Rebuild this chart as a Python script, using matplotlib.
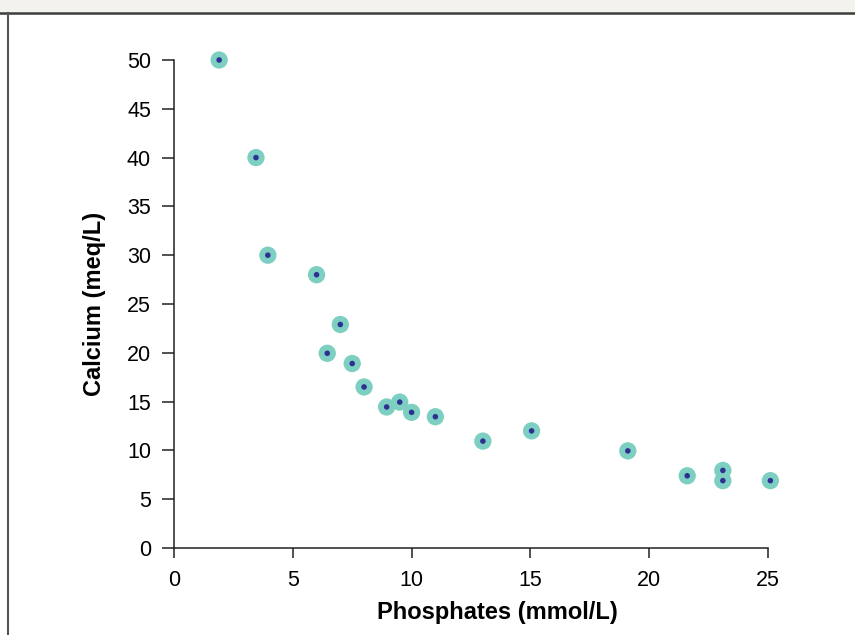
import matplotlib
matplotlib.use('Agg')
import matplotlib.pyplot as plt
from matplotlib.patches import Rectangle
from matplotlib.lines import Line2D

plt.rcParams['font.family'] = ['Liberation Sans', 'DejaVu Sans']

# values
phosphates = [1.9, 3.45, 3.95, 6.0, 7.0, 6.45, 7.5, 8.0, 8.95, 9.5,
              10.0, 11.0, 13.0, 15.05, 19.1, 21.6, 23.1, 23.1, 25.1]
calcium = [50, 40, 30, 28, 22.9, 19.95, 18.9, 16.5, 14.45, 14.95,
           13.9, 13.45, 10.95, 12.0, 9.95, 7.4, 7.95, 6.9, 6.9]
x_ticks = [0, 5, 10, 15, 20, 25]
y_ticks = [0, 5, 10, 15, 20, 25, 30, 35, 40, 45, 50]

W, H = 855, 635
fig = plt.figure(figsize=(W / 100, H / 100), dpi=100)

# frame: beige band on top, dark rule under it, grey line on the left
fig.patches.append(Rectangle((0, 1 - 12 / H), 1, 12 / H, transform=fig.transFigure,
                             facecolor='#f3f2ec', edgecolor='none', zorder=0))
fig.lines.append(Line2D([0, 1], [1 - 12.8 / H, 1 - 12.8 / H], transform=fig.transFigure,
                        color='#3c3c3c', linewidth=1.8))
fig.lines.append(Line2D([7.7 / W, 7.7 / W], [0, 1 - 13 / H], transform=fig.transFigure,
                        color='#555555', linewidth=1.5))

ax = fig.add_axes([174 / W, 1 - 548 / H, (768 - 174) / W, (548 - 60) / H])
ax.patch.set_alpha(0)

ax.scatter(phosphates, calcium, s=155, color='#7dcfc1', edgecolors='none',
           clip_on=False, zorder=3)
ax.scatter(phosphates, calcium, s=16, color='#2e3192', edgecolors='none',
           clip_on=False, zorder=4)

ax.set_xlim(0, 25)
ax.set_ylim(0, 50)
ax.set_xticks(x_ticks)
ax.set_yticks(y_ticks)

for side in ['top', 'right']:
    ax.spines[side].set_visible(False)
for side in ['left', 'bottom']:
    ax.spines[side].set_color('#222222')
    ax.spines[side].set_linewidth(1.1)

ax.tick_params(axis='y', direction='out', length=8.5, width=1.1, color='#222222',
               labelsize=15.5, pad=8)
ax.tick_params(axis='x', direction='out', length=7.5, width=1.1, color='#222222',
               labelsize=15.5, pad=8)

ax.set_xlabel('Phosphates (mmol/L)', fontsize=17, fontweight='bold')
ax.set_ylabel('Calcium (meq/L)', fontsize=17, fontweight='bold')
ax.xaxis.set_label_coords((497 - 174) / (768 - 174), -(613 - 548) / (548 - 60))
ax.yaxis.set_label_coords(-(174 - 94) / (768 - 174), 0.5)
ax.xaxis.label.set_va('center')
ax.yaxis.label.set_va('center')

plt.savefig('out.png', dpi=100)
plt.close()
